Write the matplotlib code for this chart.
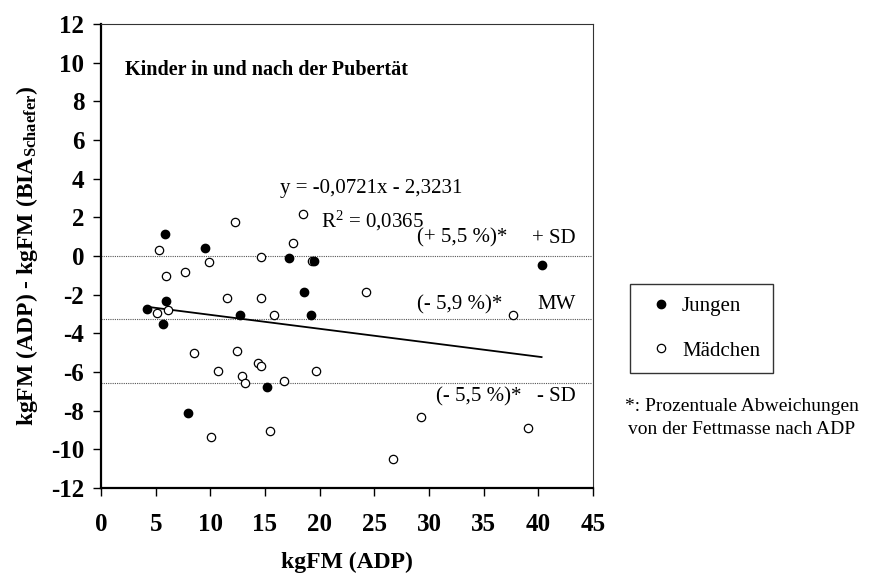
"""Bland-Altman style plot: kgFM ADP vs BIA (Schaefer)."""

import matplotlib

matplotlib.use("Agg")

import matplotlib.pyplot as plt
import numpy as np

plt.rcParams["font.family"] = ["Liberation Serif", "DejaVu Serif"]
plt.rcParams["mathtext.fontset"] = "custom"
plt.rcParams["mathtext.rm"] = "Liberation Serif"
plt.rcParams["mathtext.it"] = "Liberation Serif:italic"
plt.rcParams["mathtext.bf"] = "Liberation Serif:bold"
plt.rcParams["axes.unicode_minus"] = False

# Jungen (filled)
jungen_x = [5.82, 9.49, 17.18, 19.47, 18.55, 5.92, 4.21, 5.68, 12.69, 19.23, 7.93, 15.2, 40.3]
jungen_y = [1.12, 0.43, -0.12, -0.26, -1.85, -2.33, -2.72, -3.52, -3.04, -3.07, -8.14, -6.78, -0.45]

# Maedchen (open)
maedchen_x = [12.27, 18.46, 17.55, 5.27, 14.62, 19.26, 9.85, 5.92, 7.69, 11.5,
              14.65, 5.16, 6.1, 15.84, 8.52, 12.45, 14.34, 14.65, 10.71, 12.88,
              13.15, 16.76, 19.69, 10.04, 15.5, 24.2, 37.69, 29.24, 39.07, 26.74]
maedchen_y = [1.78, 2.17, 0.66, 0.29, -0.03, -0.26, -0.33, -1.02, -0.81, -2.16,
              -2.16, -2.95, -2.81, -3.07, -5.02, -4.9, -5.52, -5.69, -5.97, -6.22,
              -6.57, -6.47, -5.95, -9.36, -9.07, -1.88, -3.05, -8.33, -8.91, -10.52]

# regression and mean / SD lines
slope = -0.0721
intercept = -2.3231
mw = -3.28
sd = 3.28

fig = plt.figure(figsize=(8.82, 5.75), dpi=100)
ax = fig.add_axes([0.1145, 0.1513, 0.5578, 0.807])

for level in (mw + sd, mw, mw - sd):
    ax.plot([0, 44.8], [level, level], color="#555555", linestyle=(0, (1, 1)),
            linewidth=0.8, zorder=1)

all_x = np.array(jungen_x + maedchen_x)
xr = np.array([all_x.min(), all_x.max()])
ax.plot(xr, slope * xr + intercept, color="black", linewidth=1.3, zorder=2)

ax.plot(maedchen_x, maedchen_y, "o", markersize=6, markerfacecolor="white",
        markeredgecolor="black", markeredgewidth=0.9, linestyle="none",
        label="Mädchen", zorder=3)
ax.plot(jungen_x, jungen_y, "o", markersize=6, color="black", linestyle="none",
        label="Jungen", zorder=4)

ax.set_xlim(0, 45)
ax.set_ylim(-12, 12)
ax.set_xticks(np.arange(0, 46, 5))
ax.set_yticks(np.arange(-12, 13, 2))
ax.tick_params(direction="out", length=6, width=1, labelsize=18)
ax.tick_params(axis="x", pad=12)
ax.tick_params(axis="y", pad=6)
for lab in ax.get_xticklabels() + ax.get_yticklabels():
    lab.set_fontweight("bold")
for side in ("left", "bottom"):
    ax.spines[side].set_linewidth(1.6)
for side in ("top", "right"):
    ax.spines[side].set_linewidth(0.8)
    ax.spines[side].set_color("#333333")

ax.set_xlabel("kgFM (ADP)", fontsize=17, fontweight="bold")
ax.xaxis.set_label_coords(0.5, -0.138)
ax.set_ylabel(r"kgFM (ADP) - kgFM (BIA$_{\mathbf{Schaefer}}$)", fontsize=17,
              fontweight="bold")
ax.yaxis.set_label_coords(-0.124, 0.5)

ax.text(2.23, 9.62, "Kinder in und nach der Pubertät", fontsize=14.5,
        fontweight="bold", va="center", ha="left")
ax.text(16.4, 3.47, "y = -0,0721x - 2,3231", fontsize=15, va="center", ha="left")
ax.text(20.1, 1.83, "R$^2$ = 0,0365", fontsize=15, va="center", ha="left")

ax.text(28.93, 0.92, "(+ 5,5 %)*", fontsize=15, va="center", ha="left")
ax.text(28.93, -2.53, "(- 5,9 %)*", fontsize=15, va="center", ha="left")
ax.text(30.68, -7.28, "(- 5,5 %)*", fontsize=15, va="center", ha="left")
ax.text(43.45, 0.92, "+ SD", fontsize=15, va="center", ha="right")
ax.text(43.45, -2.53, "MW", fontsize=15, va="center", ha="right")
ax.text(43.45, -7.28, "- SD", fontsize=15, va="center", ha="right")

handles, labels = ax.get_legend_handles_labels()
leg = fig.legend(handles[::-1], labels[::-1], loc="upper left",
                 bbox_to_anchor=(630 / 882, 1 - 284 / 575), borderaxespad=0,
                 fontsize=15, frameon=True, fancybox=False, edgecolor="black",
                 borderpad=0.6, labelspacing=1.2, handlelength=1.8,
                 handletextpad=0.1, markerscale=1.0)
leg.get_frame().set_linewidth(1.0)

fig.text(742 / 882, 1 - 418 / 575,
         "*: Prozentuale Abweichungen\nvon der Fettmasse nach ADP",
         fontsize=14, ha="center", va="center", multialignment="center",
         linespacing=1.45)

fig.savefig("out.png", dpi=100)
plt.close(fig)
